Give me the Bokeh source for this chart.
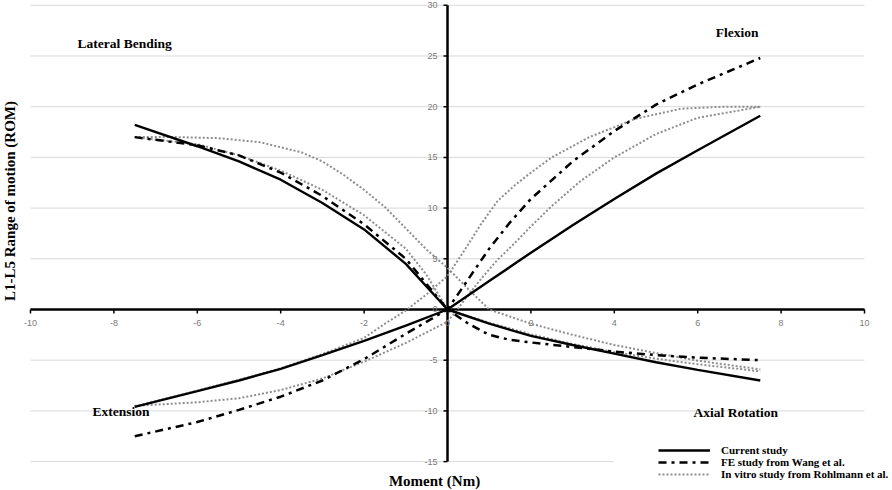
import math
from bokeh.plotting import figure
from bokeh.models import Label, Legend, LegendItem, BoxAnnotation
from bokeh.embed import file_html
from bokeh.resources import INLINE
from bokeh.core.properties import value

# ---------------- data ----------------
x_ticks = [-10, -8, -6, -4, -2, 0, 2, 4, 6, 8, 10]
x_tick_labels = ["-10", "-8", "-6", "-4", "-2", "0", "2", "4", "6", "8", "10"]
y_ticks = [-15, -10, -5, 0, 5, 10, 15, 20, 25, 30]
y_tick_labels = ["-15", "-10", "-5", "0", "5", "10", "15", "20", "25", "30"]

# Current study
cur_fe_x = [-7.5, -6, -5, -4, -3, -2, -1, 0, 1, 2, 3, 4, 5, 6, 7.5]
cur_fe_y = [-9.6, -8.05, -7.0, -5.85, -4.5, -3.1, -1.6, 0, 2.8, 5.6, 8.3, 10.9, 13.4, 15.7, 19.1]
cur_lbar_x = [-7.5, -6, -5, -4, -3, -2, -1, 0, 1, 2, 3, 4, 5, 6, 7.5]
cur_lbar_y = [18.2, 16.1, 14.6, 12.8, 10.5, 7.9, 4.5, 0, -1.4, -2.6, -3.5, -4.35, -5.2, -5.95, -7.0]

# FE study from Wang et al.
wang_fe_x = [-7.5, -6, -5, -4, -3, -2, -1, 0, 0.5, 1, 1.5, 2, 3, 4, 5, 6, 7.5]
wang_fe_y = [-12.5, -11.1, -9.9, -8.6, -7.0, -4.9, -2.4, 0, 3.0, 6.0, 8.6, 10.9, 14.6, 17.6, 20.2, 22.2, 24.8]
wang_lbar_x = [-7.5, -6, -5, -4, -3, -2, -1, 0, 0.5, 1, 1.5, 2, 3, 4, 5, 6, 7.5]
wang_lbar_y = [17.0, 16.2, 15.2, 13.5, 11.2, 8.4, 5.0, 0, -1.4, -2.5, -3.0, -3.25, -3.7, -4.15, -4.5, -4.75, -5.0]

# In vitro study from Rohlmann et al. (two bounding curves per motion pair)
roh_fe_a_x = [-7.5, -6, -5, -4, -3, -2, -1.5, -1, -0.5, 0, 0.4, 0.8, 1.2, 1.6, 2.0, 2.5, 3.4, 4.5, 5.6, 6.6, 7.5]
roh_fe_a_y = [-9.55, -8.0, -6.95, -5.8, -4.4, -2.8, -1.4, -0.1, 1.5, 3.3, 5.8, 8.4, 10.7, 12.2, 13.5, 15.0, 17.0, 18.8, 19.8, 20.0, 20.0]
roh_fe_b_x = [-7.5, -6, -5, -4, -3, -2, -1, 0, 0.2, 0.4, 0.8, 1.2, 1.6, 2.0, 2.5, 3.2, 4.0, 5.0, 6.0, 7.5]
roh_fe_b_y = [-9.5, -9.15, -8.75, -7.95, -6.8, -5.15, -3.3, -1.2, -0.2, 0.9, 3.0, 4.9, 6.5, 8.2, 10.2, 12.7, 15.0, 17.3, 18.9, 20.0]
roh_lbar_a_x = [-7.5, -6.5, -5.5, -4.5, -3.5, -3, -2.5, -2, -1.5, -1, -0.5, 0, 0.5, 1, 2, 3, 4, 5, 6, 7.5]
roh_lbar_a_y = [17.0, 17.0, 16.9, 16.5, 15.5, 14.6, 13.3, 11.8, 10.1, 8.0, 5.9, 4.1, 2.0, 0, -1.4, -2.5, -3.5, -4.3, -5.05, -5.9]
roh_lbar_b_x = [-7.5, -6, -5, -4, -3, -2, -1, -0.5, 0, 1, 2, 3, 4, 5, 6, 7.5]
roh_lbar_b_y = [17.0, 16.3, 15.2, 13.7, 11.8, 9.3, 6.0, 3.4, 0, -1.3, -2.45, -3.4, -4.2, -4.85, -5.4, -6.1]

series_names = ["Current study", "FE study from Wang et al.", "In vitro study from Rohlmann et al."]

# ---------------- figure ----------------
W, H = 892, 490
X0, X1 = -10.719, 10.671
Y0, Y1 = -17.850, 30.473
PX_X = W / (X1 - X0)
PX_Y = H / (Y1 - Y0)


def dx(fx):
    return X0 + fx / PX_X


def dy(fy):
    return Y1 - fy / PX_Y


p = figure(width=W, height=H, x_range=(X0, X1), y_range=(Y0, Y1),
           output_backend="svg", toolbar_location=None,
           x_axis_location=None, y_axis_location=None,
           min_border=0, outline_line_color=None,
           background_fill_color="white", border_fill_color="white")
p.grid.visible = False

# gridlines
grid_y = [t for t in y_ticks if t != 0]
p.segment(x0=[x_ticks[0]] * len(grid_y), x1=[x_ticks[-1]] * len(grid_y),
          y0=grid_y, y1=grid_y, line_color="#d9d9d9", line_width=1)

# axes through origin
p.segment(x0=[x_ticks[0]], x1=[x_ticks[-1]], y0=[0], y1=[0], line_color="black", line_width=2.5)
p.segment(x0=[0], x1=[0], y0=[y_ticks[0]], y1=[y_ticks[-1]], line_color="black", line_width=2.5)

# tick marks
tl = 4.0
p.segment(x0=x_ticks, x1=x_ticks, y0=[0] * len(x_ticks), y1=[-tl / PX_Y] * len(x_ticks),
          line_color="black", line_width=1.5)
p.segment(x0=[0] * len(y_ticks), x1=[-tl / PX_X] * len(y_ticks), y0=y_ticks, y1=y_ticks,
          line_color="black", line_width=1.5)

# tick labels
p.text(x=x_ticks, y=[0] * len(x_ticks), text=x_tick_labels, y_offset=14,
       text_align="center", text_baseline="middle", text_font=value("Liberation Sans"),
       text_font_size="9px", text_color="#7a7a7a")
p.text(x=[0] * len(y_ticks), y=y_ticks, text=y_tick_labels, x_offset=-10,
       text_align="right", text_baseline="middle", text_font=value("Liberation Sans"),
       text_font_size="9px", text_color="#7a7a7a")

# series
dot_style = dict(line_color="#8e8e8e", line_width=2, line_dash="2 2")
r_roh1 = p.line(roh_fe_a_x, roh_fe_a_y, **dot_style)
p.line(roh_fe_b_x, roh_fe_b_y, **dot_style)
p.line(roh_lbar_a_x, roh_lbar_a_y, **dot_style)
p.line(roh_lbar_b_x, roh_lbar_b_y, **dot_style)

dd_style = dict(line_color="black", line_width=2.5, line_dash="8 5 3 5")
r_wang = p.line(wang_fe_x, wang_fe_y, **dd_style)
p.line(wang_lbar_x, wang_lbar_y, **dd_style)

solid_style = dict(line_color="black", line_width=2.4)
r_cur = p.line(cur_fe_x, cur_fe_y, **solid_style)
p.line(cur_lbar_x, cur_lbar_y, **solid_style)

# quadrant labels
qfont = dict(text_font="Liberation Serif", text_font_style="bold", text_font_size="13.5px",
             text_color="black", text_baseline="middle", text_align="left")
p.add_layout(Label(x=-8.87, y=26.26, text="Lateral Bending", **qfont))
p.add_layout(Label(x=6.43, y=27.3, text="Flexion", **qfont))
p.add_layout(Label(x=-8.51, y=-10.1, text="Extension", **qfont))
p.add_layout(Label(x=5.9, y=-10.2, text="Axial Rotation", **qfont))

# axis titles
tfont = dict(text_font="Liberation Serif", text_font_style="bold", text_font_size="15px",
             text_color="black", text_baseline="middle", text_align="center")
p.add_layout(Label(x=dx(9), y=10.7, angle=math.pi / 2, text="L1-L5 Range of motion (ROM)", **tfont))
p.add_layout(Label(x=-0.31, y=dy(480), text="Moment (Nm)", **tfont))

# white area behind legend
p.add_layout(BoxAnnotation(left=dx(613), right=dx(W), top=dy(440), bottom=dy(H),
                           fill_color="white", fill_alpha=1.0, line_color=None))

legend = Legend(items=[LegendItem(label=series_names[0], renderers=[r_cur]),
                       LegendItem(label=series_names[1], renderers=[r_wang]),
                       LegendItem(label=series_names[2], renderers=[r_roh1])],
                location=(658, 10), orientation="vertical",
                label_text_font="Liberation Serif", label_text_font_style="bold",
                label_text_font_size="11px", label_text_color="black",
                glyph_width=52, glyph_height=12, label_height=12, label_standoff=11,
                spacing=0, padding=2, margin=0,
                background_fill_color="white", background_fill_alpha=1.0,
                border_line_color=None)
p.add_layout(legend)

open("out.html", "w").write(file_html(p, INLINE))
